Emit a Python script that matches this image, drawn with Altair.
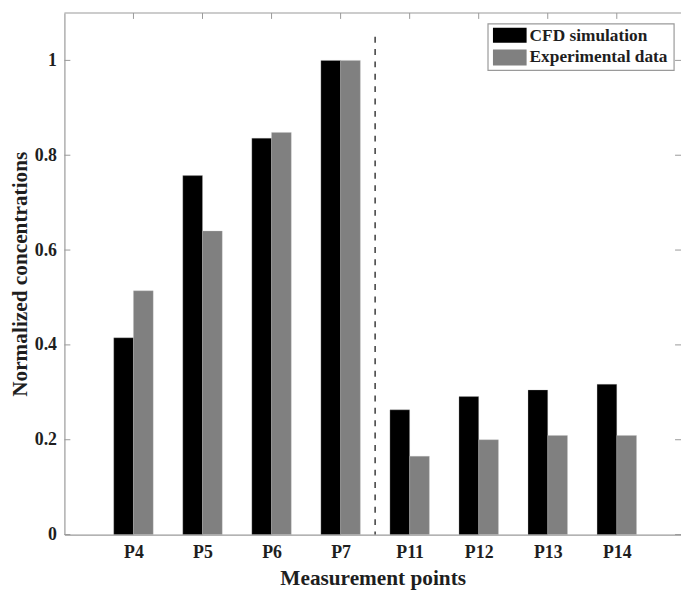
import altair as alt
import pandas as pd

# ---- data ----
points = ["P4", "P5", "P6", "P7", "P11", "P12", "P13", "P14"]
cfd_values = [0.415, 0.757, 0.836, 1.0, 0.263, 0.291, 0.305, 0.317]
exp_values = [0.514, 0.640, 0.848, 1.0, 0.165, 0.200, 0.209, 0.209]
series = ["CFD simulation", "Experimental data"]
series_colors = ["#000000", "#808080"]
y_ticks = [0, 0.2, 0.4, 0.6, 0.8, 1.0]
divider_at = 4.5      # dashed separator between P7 and P11
divider_top = 1.05

rows = []
for i, p in enumerate(points):
    rows.append({"point": p, "pos": i + 1, "series": series[0], "value": cfd_values[i]})
    rows.append({"point": p, "pos": i + 1, "series": series[1], "value": exp_values[i]})
df = pd.DataFrame(rows)

W, H = 623, 527
BW = 2 / 7
FONT = "Liberation Serif"
AXIS_GREY = "#9a9a9a"
TEXT = "#1e1e1e"
XT = "Measurement points"
YT = "Normalized concentrations"

xscale = alt.Scale(domain=[0, 8.93], nice=False, zero=False)
yscale = alt.Scale(domain=[0, 1.1], nice=False)

label_js = "[" + ",".join("'%s'" % p for p in points) + "][datum.value - 1]"

bars = alt.Chart(df).transform_calculate(
    x0=f"datum.series == '{series[0]}' ? datum.pos - {BW} : datum.pos"
).transform_calculate(
    x1=f"datum.x0 + {BW}"
).mark_rect(strokeWidth=0.5, stroke="#bdbdbd", strokeOpacity=0.6).encode(
    x=alt.X("x0:Q", scale=xscale, title=XT,
            axis=alt.Axis(values=list(range(1, 9)), labelExpr=label_js,
                          ticks=False, grid=False,
                          labelPadding=9, titlePadding=6)),
    x2="x1:Q",
    y=alt.Y("value:Q", scale=yscale, title=YT,
            axis=alt.Axis(values=y_ticks,
                          labelExpr="datum.value == 0 ? '0' : datum.value == 1 ? '1' : format(datum.value, '.1f')",
                          ticks=False, grid=False,
                          labelPadding=8, titlePadding=3)),
    y2=alt.datum(0),
    color=alt.Color("series:N", scale=alt.Scale(domain=series, range=series_colors), legend=None),
)

divider = alt.Chart(pd.DataFrame({"x": [divider_at], "top": [divider_top]})).mark_rule(
    color="#3a3a3a", strokeWidth=1.5, strokeDash=[6, 6.5]
).encode(
    x=alt.X("x:Q", scale=xscale, title=XT),
    y=alt.Y("top:Q", scale=yscale, title=YT),
    y2=alt.datum(0),
)

top_ticks = alt.Chart(pd.DataFrame({"pos": list(range(1, 9))})).mark_rule(color=AXIS_GREY).encode(
    x=alt.X("pos:Q", scale=xscale, title=XT),
    y=alt.value(0), y2=alt.value(6),
)

left_ticks = alt.Chart(pd.DataFrame({"v": y_ticks})).mark_rule(color=AXIS_GREY).encode(
    y=alt.Y("v:Q", scale=yscale, title=YT),
    x=alt.value(0), x2=alt.value(6),
)

right_ticks = alt.Chart(pd.DataFrame({"v": y_ticks})).mark_rule(color=AXIS_GREY).encode(
    y=alt.Y("v:Q", scale=yscale, title=YT),
    x=alt.value(W - 6), x2=alt.value(W),
)

top_border = alt.Chart(pd.DataFrame({"d": [0]})).mark_rule(color=AXIS_GREY, strokeWidth=1.2).encode(
    x=alt.value(0), x2=alt.value(W), y=alt.value(0),
)

# ---- legend (drawn box) ----
legend_df = pd.DataFrame({"d": [0]})
legend_box = alt.Chart(legend_df).mark_rect(fill="white", stroke=AXIS_GREY, strokeWidth=1.2).encode(
    x=alt.value(428), x2=alt.value(616), y=alt.value(11), y2=alt.value(58),
)
sw1 = alt.Chart(legend_df).mark_rect(fill=series_colors[0]).encode(
    x=alt.value(433), x2=alt.value(467), y=alt.value(15), y2=alt.value(30),
)
sw2 = alt.Chart(legend_df).mark_rect(fill=series_colors[1]).encode(
    x=alt.value(433), x2=alt.value(467), y=alt.value(37), y2=alt.value(53),
)
txt1 = alt.Chart(legend_df).mark_text(
    align="left", baseline="middle", font=FONT, fontWeight="bold", fontSize=17.5, color=TEXT
).encode(x=alt.value(470), y=alt.value(23), text=alt.value(series[0]))
txt2 = alt.Chart(legend_df).mark_text(
    align="left", baseline="middle", font=FONT, fontWeight="bold", fontSize=17.5, color=TEXT
).encode(x=alt.value(470), y=alt.value(45), text=alt.value(series[1]))

chart = alt.layer(
    bars, divider, top_ticks, left_ticks, right_ticks, top_border,
    legend_box, sw1, sw2, txt1, txt2
).properties(
    width=W, height=H,
    autosize=alt.AutoSizeParams(type="none"),
    padding={"left": 57, "top": 2, "right": 0, "bottom": 54},
).configure_view(
    stroke=None
).configure_axis(
    domainColor=AXIS_GREY, domainWidth=1.2,
    labelFont=FONT, labelFontWeight="bold", labelFontSize=18, labelColor=TEXT,
    titleFont=FONT, titleFontWeight="bold", titleFontSize=21.5, titleColor=TEXT,
)

chart.save("out.html", embed_options={"renderer": "svg", "actions": False})
